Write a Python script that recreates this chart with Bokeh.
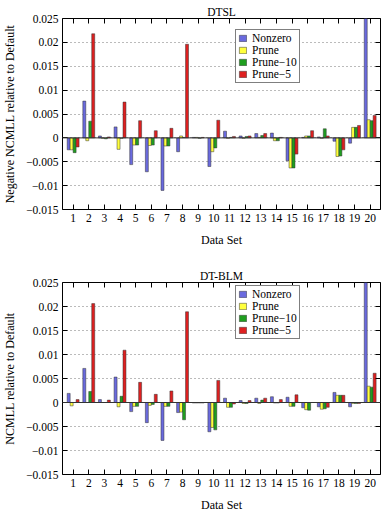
from bokeh.plotting import figure
from bokeh.models import (ColumnDataSource, FixedTicker, LinearAxis, Legend,
                          LegendItem, Span, Range1d)
from bokeh.transform import dodge
from bokeh.layouts import column
from bokeh.embed import file_html
from bokeh.resources import INLINE

data_sets = list(range(1, 21))
series_names = ["Nonzero", "Prune", "Prune\u221210", "Prune\u22125"]
series_colors = ["#6a6ade", "#ffff3c", "#1f9e1f", "#de2020"]
y_ticks = [-0.015, -0.01, -0.005, 0, 0.005, 0.01, 0.015, 0.02, 0.025]
y_tick_labels = ["\u22120.015", "\u22120.01", "\u22120.005", "0", "0.005",
                 "0.01", "0.015", "0.02", "0.025"]

# DTSL (top panel)
dtsl_nonzero = [-0.0025, 0.0077, 0.0004, 0.0023, -0.0056, -0.0071, -0.0110, -0.0029, 0.0001, -0.0060,
                0.0014, 0.0004, 0.0009, 0.0010, -0.0048, 0.0001, 0.0002, -0.0007, -0.0011, 0.0260]
dtsl_prune = [-0.0025, -0.0006, -0.0001, -0.0024, -0.0015, -0.0016, -0.0017, 0.0004, 0.0001, -0.0029,
              -0.0001, -0.0001, 0.0001, -0.0006, -0.0063, 0.0004, -0.0001, -0.0039, 0.0022, 0.0038]
dtsl_prune10 = [-0.0031, 0.0035, -0.0002, -0.0001, -0.0015, -0.0015, -0.0017, 0.0001, -0.0001, -0.0021,
                0.0001, 0.0003, 0.0005, -0.0006, -0.0063, 0.0004, 0.0019, -0.0038, 0.0022, 0.0036]
dtsl_prune5 = [-0.0019, 0.0218, 0.0002, 0.0075, 0.0036, 0.0015, 0.0020, 0.0196, 0.0001, 0.0037,
               0.0003, 0.0004, 0.0009, 0.0001, -0.0034, 0.0015, 0.0004, -0.0025, 0.0026, 0.0047]

# DT-BLM (bottom panel)
blm_nonzero = [0.0019, 0.0071, 0.0006, 0.0053, -0.0019, -0.0042, -0.0079, -0.0021, -0.0001, -0.0061,
               0.0009, 0.0004, 0.0009, 0.0012, 0.0011, -0.0011, -0.0009, 0.0021, -0.0009, 0.0260]
blm_prune = [-0.0007, 0.0000, 0.0000, -0.0009, -0.0008, -0.0006, -0.0008, -0.0020, -0.0001, -0.0052,
             -0.0010, -0.0002, -0.0002, -0.0001, -0.0008, -0.0015, -0.0014, 0.0015, -0.0002, 0.0034]
blm_prune10 = [0.0000, 0.0023, 0.0000, 0.0013, -0.0008, -0.0004, -0.0008, -0.0036, -0.0001, -0.0057,
               -0.0010, -0.0002, 0.0005, -0.0001, -0.0008, -0.0016, -0.0013, 0.0015, -0.0002, 0.0032]
blm_prune5 = [0.0006, 0.0206, 0.0005, 0.0109, 0.0042, 0.0017, 0.0024, 0.0189, -0.0001, 0.0046,
              -0.0003, 0.0004, 0.0009, 0.0006, 0.0016, 0.0000, -0.0010, 0.0015, -0.0002, 0.0061]

FONT = "Liberation Serif"
FS = "11.5px"


def make_panel(title, ylabel, values, height, top, bottom, left, legend_loc):
    p = figure(width=386, height=height, output_backend="svg", toolbar_location=None,
               x_range=Range1d(0.32, 20.66), y_range=Range1d(-0.015, 0.025),
               min_border_left=left, min_border_right=6, min_border_top=top,
               min_border_bottom=bottom, title=title)
    p.title.align = "center"
    p.title.text_font = FONT
    p.title.text_font_size = FS
    p.title.text_font_style = "normal"
    p.title.text_color = "black"
    p.title.standoff = 2
    p.title.offset = 0

    src = ColumnDataSource(dict(x=data_sets, a=values[0], b=values[1], c=values[2], d=values[3]))
    width = 0.19
    offsets = [-0.285, -0.095, 0.095, 0.285]
    renderers = []
    for col, off, color in zip(["a", "b", "c", "d"], offsets, series_colors):
        r = p.vbar(x=dodge("x", off), top=col, bottom=0, width=width, source=src,
                   fill_color=color, line_color="#333333", line_width=0.5)
        renderers.append(r)

    p.add_layout(Span(location=0, dimension="width", line_color="#333333", line_width=1))

    xt = FixedTicker(ticks=data_sets)
    yt = FixedTicker(ticks=y_ticks)
    overrides = {t: s for t, s in zip(y_ticks, y_tick_labels)}

    p.xaxis.ticker = xt
    p.yaxis.ticker = yt
    p.yaxis.major_label_overrides = overrides
    for ax in p.xaxis + p.yaxis:
        ax.major_tick_in = 5
        ax.major_tick_out = 0
        ax.minor_tick_line_color = None
        ax.axis_line_color = None
        ax.major_tick_line_color = "black"
        ax.major_label_text_font = FONT
        ax.major_label_text_font_size = FS
        ax.major_label_text_color = "black"
        ax.axis_label_text_font = FONT
        ax.axis_label_text_font_size = "12px"
        ax.axis_label_text_font_style = "normal"
        ax.axis_label_text_color = "black"
    p.yaxis.major_label_standoff = 4
    p.yaxis.axis_label_standoff = 6
    p.xaxis.major_label_standoff = 4
    p.xaxis.axis_label_standoff = 8
    p.xaxis.axis_label = "Data Set"
    p.yaxis.axis_label = ylabel

    # mirrored tick marks (gnuplot style) on top and right, without labels
    top_ax = LinearAxis(ticker=xt, major_tick_in=5, major_tick_out=0,
                        major_label_text_font_size="1px", major_label_text_color=None,
                        major_label_standoff=0, axis_line_color=None,
                        minor_tick_line_color=None, major_tick_line_color="black")
    right_ax = LinearAxis(ticker=yt, major_tick_in=5, major_tick_out=0,
                          major_label_text_font_size="1px", major_label_text_color=None,
                          major_label_standoff=0, axis_line_color=None,
                          minor_tick_line_color=None, major_tick_line_color="black")
    p.add_layout(top_ax, "above")
    p.add_layout(right_ax, "right")

    p.xgrid.visible = False
    p.ygrid.ticker = yt
    p.ygrid.grid_line_color = "#777777"
    p.ygrid.grid_line_dash = "1 3"
    p.ygrid.grid_line_width = 1

    p.outline_line_color = "black"
    p.outline_line_width = 1
    p.background_fill_color = "white"

    legend = Legend(items=[LegendItem(label=n, renderers=[r]) for n, r in zip(series_names, renderers)],
                    location=legend_loc, label_text_font=FONT, label_text_font_size=FS,
                    label_height=9, glyph_height=8, glyph_width=9, spacing=0, padding=2,
                    margin=0, label_standoff=5, border_line_color="black", border_line_width=1,
                    background_fill_alpha=1, label_text_color="black")
    p.add_layout(legend, "center")
    return p


p1 = make_panel("DTSL", "Negative NCMLL relative to Default",
                [dtsl_nonzero, dtsl_prune, dtsl_prune10, dtsl_prune5],
                257, 18, 48, 59, (173, 126))
p2 = make_panel("DT-BLM", "NCMLL relative to Default",
                [blm_nonzero, blm_prune, blm_prune10, blm_prune5],
                257, 25, 40, 62, (173, 135))

layout = column(p1, p2, spacing=0)
open("out.html", "w").write(file_html(layout, INLINE))
